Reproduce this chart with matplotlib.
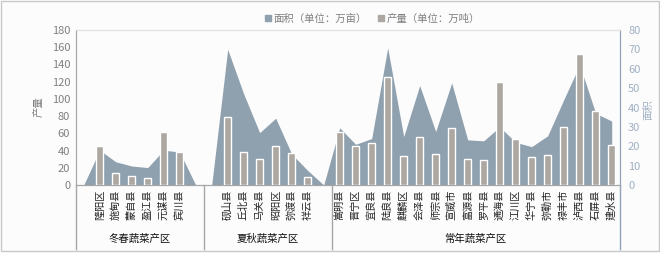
import matplotlib
matplotlib.use('Agg')
import matplotlib.pyplot as plt
from matplotlib.patches import Rectangle
import numpy as np

plt.rcParams['font.family'] = ['Noto Sans CJK SC', 'DejaVu Sans']

# categories ('' = empty spacer slot inside a group)
categories = ['', '隆阳区', '施甸县', '蒙自县', '盈江县', '元谋县', '宾川县', '',
              '', '砚山县', '丘北县', '马关县', '昭阳区', '弥渡县', '祥云县', '',
              '嵩明县', '晋宁区', '宜良县', '陆良县', '麒麟区', '会泽县', '师宗县',
              '宣威市', '富源县', '罗平县', '通海县', '江川区', '华宁县', '弥勒市',
              '禄丰市', '泸西县', '石屏县', '建水县']
groups = ['冬春蔬菜产区', '夏秋蔬菜产区', '常年蔬菜产区']
group_sizes = [8, 8, 18]

# 产量 (万吨), left axis
output = [None, 45, 13.5, 10.8, 7.7, 62, 38, None,
          None, 79, 38, 30, 45, 37, 9.6, None,
          62, 45, 49, 125, 34, 56, 36, 66, 30, 29, 120, 53, 32.5, 35,
          67.5, 152, 86, 47]
# 面积 (万亩), right axis
area = [0, 18, 12, 9.8, 9, 18, 17, 0,
        0, 70, 47, 27, 34.5, 16, 7.5, 0,
        29.5, 21, 24, 70.8, 25, 51.3, 27.6, 52.7, 23.3, 22.8, 30, 22, 19.8, 25.4,
        44, 62, 37, 33]

area_color = '#8FA0AF'
bar_color = '#ADA7A2'
grey = '#808080'

fig = plt.figure(figsize=(6.6, 2.61), dpi=100)
fig.patch.set_facecolor('white')
# chart frame
fig.patches.append(Rectangle((1 / 660, 10 / 261), 658 / 660, 250 / 261,
                             transform=fig.transFigure, facecolor='#fcfcfc',
                             edgecolor='#c8c8c8', lw=1, zorder=-5))

ax = fig.add_axes([75.7 / 660, 1 - 185 / 261, 544 / 660, 155 / 261])
ax2 = ax.twinx()

x = np.arange(len(categories))
ax2.fill_between(x, 0, area, color=area_color, lw=0, zorder=1)

bx = [i for i, v in enumerate(output) if v is not None]
bv = [v for v in output if v is not None]
ax.bar(bx, bv, width=0.42, color=bar_color, edgecolor='white', lw=1, zorder=3)

ax.set_zorder(ax2.get_zorder() + 1)
ax.patch.set_visible(False)

ax.set_xlim(-0.5, len(categories) - 0.5)
ax.set_ylim(0, 180)
ax.set_yticks(range(0, 181, 20))
ax2.set_ylim(0, 80)
ax2.set_yticks(range(0, 81, 10))

ax.set_xticks(bx)
ax.set_xticklabels([categories[i] for i in bx], rotation=90, fontsize=7.3,
                   color='#222222')
ax.tick_params(axis='x', length=0, pad=3)
ax.tick_params(axis='y', length=0, labelsize=8, colors=grey, pad=4)
ax2.tick_params(axis='y', length=0, labelsize=8, colors='#9FB0C2', pad=6)

for a in (ax, ax2):
    a.spines['top'].set_color('#e0e0e0')
    a.spines['left'].set_color('#a6a6a6')
    a.spines['bottom'].set_color('#a6a6a6')
    a.spines['right'].set_color('#8FA3B8')

# group separators and group names
trans = ax.get_xaxis_transform()
ybot = -64 / 155
edges = np.concatenate([[0], np.cumsum(group_sizes)]) - 0.5
for e in edges:
    c = '#8FA3B8' if e == edges[-1] else '#a6a6a6'
    ax.plot([e, e], [0, ybot], transform=trans, color=c, lw=1, clip_on=False)
for g, lo, hi in zip(groups, edges[:-1], edges[1:]):
    ax.text((lo + hi) / 2, -54 / 155, g, transform=trans, ha='center',
            va='center', fontsize=7.5, color='#111111')

fig.text(39 / 660, 1 - 107 / 261, '产量', rotation=90, ha='center',
         va='center', fontsize=7.5, color=grey)
fig.text(648 / 660, 1 - 110 / 261, '面积', rotation=90, ha='center',
         va='center', fontsize=7.5, color='#9FB0C2')

h1 = plt.Line2D([], [], marker='s', ls='', color=area_color, markersize=5)
h2 = plt.Line2D([], [], marker='s', ls='', color=bar_color, markersize=5)
fig.legend([h1, h2], ['面积（单位：万亩）', '产量（单位：万吨）'], ncol=2,
           loc='center', bbox_to_anchor=(372 / 660, 1 - 19 / 261), frameon=False,
           fontsize=7.5, labelcolor=grey, handletextpad=0.1, columnspacing=1.0,
           handlelength=0.8)

fig.savefig('out.png', dpi=100)
